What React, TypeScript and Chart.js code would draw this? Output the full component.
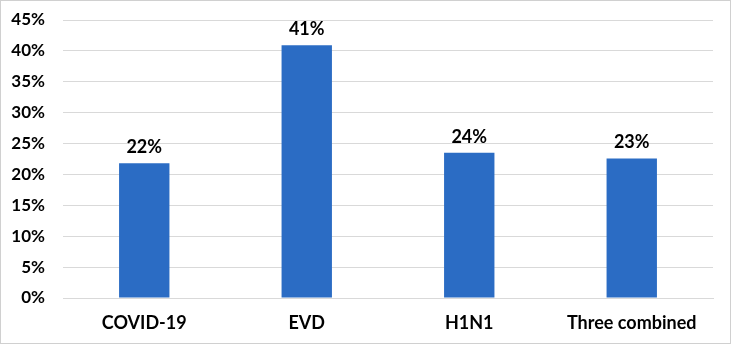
import React, { useEffect, useRef } from "react";
import { Chart, registerables } from "chart.js";

Chart.register(...registerables);

const categories = ["COVID-19", "EVD", "H1N1", "Three combined"];
const values = [21.8, 40.9, 23.5, 22.6];
const valueLabels = ["22%", "41%", "24%", "23%"];
const yTicks = [0, 5, 10, 15, 20, 25, 30, 35, 40, 45];

const FONT = "Lato, 'Liberation Sans', sans-serif";

const dataLabelPlugin = {
  id: "dataLabels",
  afterDatasetsDraw(chart: any) {
    const ctx = chart.ctx;
    const meta = chart.getDatasetMeta(0);
    ctx.save();
    ctx.font = `bold 18px ${FONT}`;
    ctx.fillStyle = "#000";
    ctx.textAlign = "center";
    ctx.textBaseline = "bottom";
    meta.data.forEach((bar: any, i: number) => {
      ctx.fillText(valueLabels[i], bar.x, bar.y - 7);
    });
    ctx.restore();
  },
};

export default function App() {
  const ref = useRef<HTMLCanvasElement>(null);
  useEffect(() => {
    document.body.style.margin = "0";
    const chart = new Chart(ref.current!, {
      type: "bar",
      data: {
        labels: categories,
        datasets: [
          {
            data: values,
            backgroundColor: "#2b6cc4",
            barPercentage: 0.31,
            categoryPercentage: 1,
          },
        ],
      },
      options: {
        animation: false,
        responsive: false,
        maintainAspectRatio: false,
        layout: { padding: { left: 0, right: 18, top: 20, bottom: 0 } },
        plugins: { legend: { display: false }, tooltip: { enabled: false } },
        scales: {
          x: {
            grid: { display: false, drawTicks: false },
            border: { display: true, color: "#d9d9d9" },
            ticks: {
              color: "#000",
              font: { family: FONT, size: 18, weight: "bold" },
              padding: 14,
            },
            afterFit(scale: any) {
              scale.height = 46;
            },
          },
          y: {
            min: 0,
            max: 45,
            afterBuildTicks(scale: any) {
              scale.ticks = yTicks.map((v) => ({ value: v }));
            },
            grid: { color: "#d9d9d9", drawTicks: false },
            border: { display: false },
            ticks: {
              color: "#000",
              font: { family: FONT, size: 17, weight: "bold" },
              padding: 18,
              callback: (v: any) => `${v}%`,
            },
            afterFit(scale: any) {
              scale.width = 63;
              scale.paddingTop = 0;
              scale.paddingBottom = 0;
            },
          },
        },
      },
      plugins: [dataLabelPlugin],
    });
    return () => chart.destroy();
  }, []);
  return (
    <div style={{ position: "relative", width: 731, height: 344 }}>
      <canvas ref={ref} width={731} height={344} style={{ display: "block" }} />
      <div
        style={{
          position: "absolute",
          left: 0,
          top: 0,
          width: 731,
          height: 344,
          boxSizing: "border-box",
          border: "1px solid #d0d0d0",
          pointerEvents: "none",
        }}
      />
    </div>
  );
}
